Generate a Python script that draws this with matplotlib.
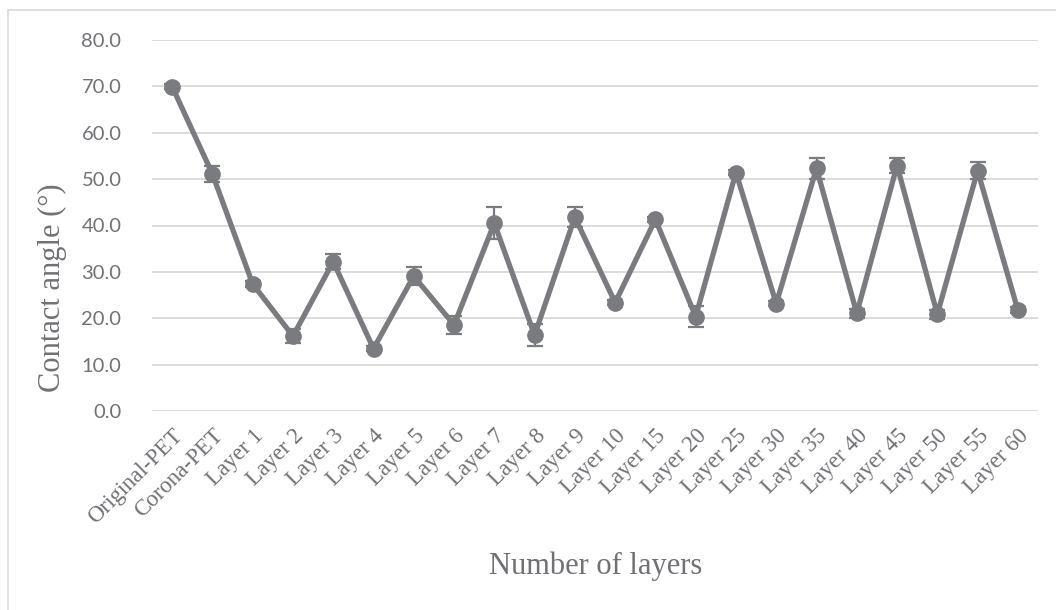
import matplotlib
matplotlib.use("Agg")
import matplotlib.pyplot as plt
from matplotlib.patches import Rectangle

categories = ["Original-PET", "Corona-PET", "Layer 1", "Layer 2", "Layer 3", "Layer 4",
              "Layer 5", "Layer 6", "Layer 7", "Layer 8", "Layer 9", "Layer 10",
              "Layer 15", "Layer 20", "Layer 25", "Layer 30", "Layer 35", "Layer 40",
              "Layer 45", "Layer 50", "Layer 55", "Layer 60"]
contact_angle = [69.9, 51.1, 27.4, 16.2, 32.2, 13.5, 29.1, 18.6, 40.5, 16.4, 41.8, 23.4,
                 41.3, 20.4, 51.4, 23.2, 52.3, 21.1, 52.9, 20.9, 51.8, 21.8]
std_dev = [0.5, 1.8, 0.6, 1.5, 1.6, 0.5, 2.0, 2.0, 3.4, 2.3, 2.2, 0.6,
           0.6, 2.3, 0.6, 0.6, 2.2, 1.0, 1.7, 1.0, 1.8, 0.6]
y_ticks = [0, 10, 20, 30, 40, 50, 60, 70, 80]

line_color = "#7a7b7f"
text_color = "#707175"
grid_color = "#d9d9d9"

W, H, DPI = 1056, 610, 100
fig = plt.figure(figsize=(W / DPI, H / DPI), dpi=DPI)

# plot area in pixel coordinates
left, right, top, bottom = 152, 1038, 39.7, 411.3
ax = fig.add_axes([left / W, 1 - bottom / H, (right - left) / W, (bottom - top) / H])

x = list(range(len(categories)))
ax.errorbar(x, contact_angle, yerr=std_dev, color=line_color, lw=3.8,
            marker="o", markersize=11, ecolor=line_color, elinewidth=1.6,
            capsize=5.5, capthick=1.6, zorder=3)

ax.set_xlim(-0.5, len(categories) - 0.5)
ax.set_ylim(0, 80)
ax.set_yticks(y_ticks)
ax.set_yticklabels([f"{v:.1f}" for v in y_ticks], fontfamily="Lato",
                   fontsize=14.5, color=text_color)
ax.set_xticks(x)
ax.set_xticklabels(categories, rotation=45, ha="right", va="top",
                   rotation_mode="anchor", fontfamily="Liberation Serif",
                   fontsize=16.5, color=text_color)
ax.tick_params(axis="both", length=0)
ax.tick_params(axis="y", pad=22)
ax.tick_params(axis="x", pad=10)

ax.grid(axis="y", color=grid_color, lw=1.3, zorder=0)
ax.set_axisbelow(True)
for s in ax.spines.values():
    s.set_visible(False)

fig.text(596 / W, 1 - 566 / H, "Number of layers", ha="center", va="center",
         fontfamily="Liberation Serif", fontsize=22, color=text_color)
fig.text(52 / W, 1 - 288 / H, "Contact angle (°)", ha="center", va="center",
         rotation=90, fontfamily="Liberation Serif", fontsize=22, color=text_color)

# chart border
fig.patches.append(Rectangle((8 / W, -0.05), 1.1, 1 - 10 / H + 0.05,
                             transform=fig.transFigure, fill=False,
                             edgecolor="#d9d9d9", lw=1.2))

fig.savefig("out.png", dpi=DPI)
